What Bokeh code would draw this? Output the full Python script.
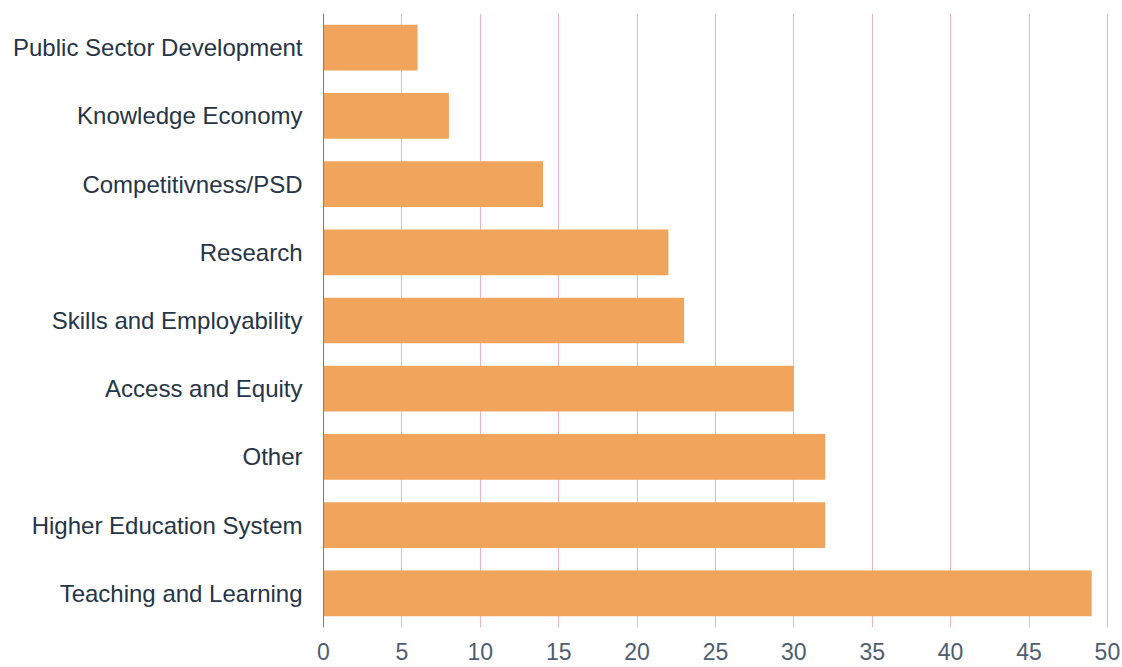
from bokeh.plotting import figure
from bokeh.models import FactorRange, Range1d, ColumnDataSource, SingleIntervalTicker
from bokeh.embed import file_html
from bokeh.resources import INLINE

categories = ["Teaching and Learning", "Higher Education System", "Other",
              "Access and Equity", "Skills and Employability", "Research",
              "Competitivness/PSD", "Knowledge Economy", "Public Sector Development"]
counts = [49, 32, 32, 30, 23, 22, 14, 8, 6]

src = ColumnDataSource(dict(cat=categories, val=counts))

p = figure(y_range=FactorRange(factors=categories, range_padding=0),
           x_range=Range1d(0, 50.9),
           frame_width=798, frame_height=614,
           min_border_left=323, min_border_top=13, min_border_right=1, min_border_bottom=39,
           output_backend="svg", toolbar_location=None)

p.hbar(y="cat", right="val", left=0, height=0.67, source=src,
       fill_color="#F0A45C", line_color=None)

p.outline_line_color = None
p.background_fill_color = "white"
p.border_fill_color = "white"

p.xaxis.ticker = SingleIntervalTicker(interval=5)
p.xaxis.axis_line_color = None
p.xaxis.major_tick_line_color = None
p.xaxis.minor_tick_line_color = None
p.xaxis.major_label_text_font = "Liberation Sans"
p.xaxis.major_label_text_font_size = "23px"
p.xaxis.major_label_text_color = "#4d5d6e"
p.xaxis.major_label_standoff = 9

p.yaxis.axis_line_color = "#c8587a"
p.yaxis.axis_line_width = 1
p.yaxis.major_tick_line_color = None
p.yaxis.minor_tick_line_color = None
p.yaxis.major_label_text_font = "Liberation Sans"
p.yaxis.major_label_text_font_size = "24px"
p.yaxis.major_label_text_color = "#253447"
p.yaxis.major_label_standoff = 15

p.xgrid.grid_line_color = "#f0b4c8"
p.xgrid.grid_line_width = 1
p.ygrid.grid_line_color = None

open("out.html", "w").write(file_html(p, INLINE))
